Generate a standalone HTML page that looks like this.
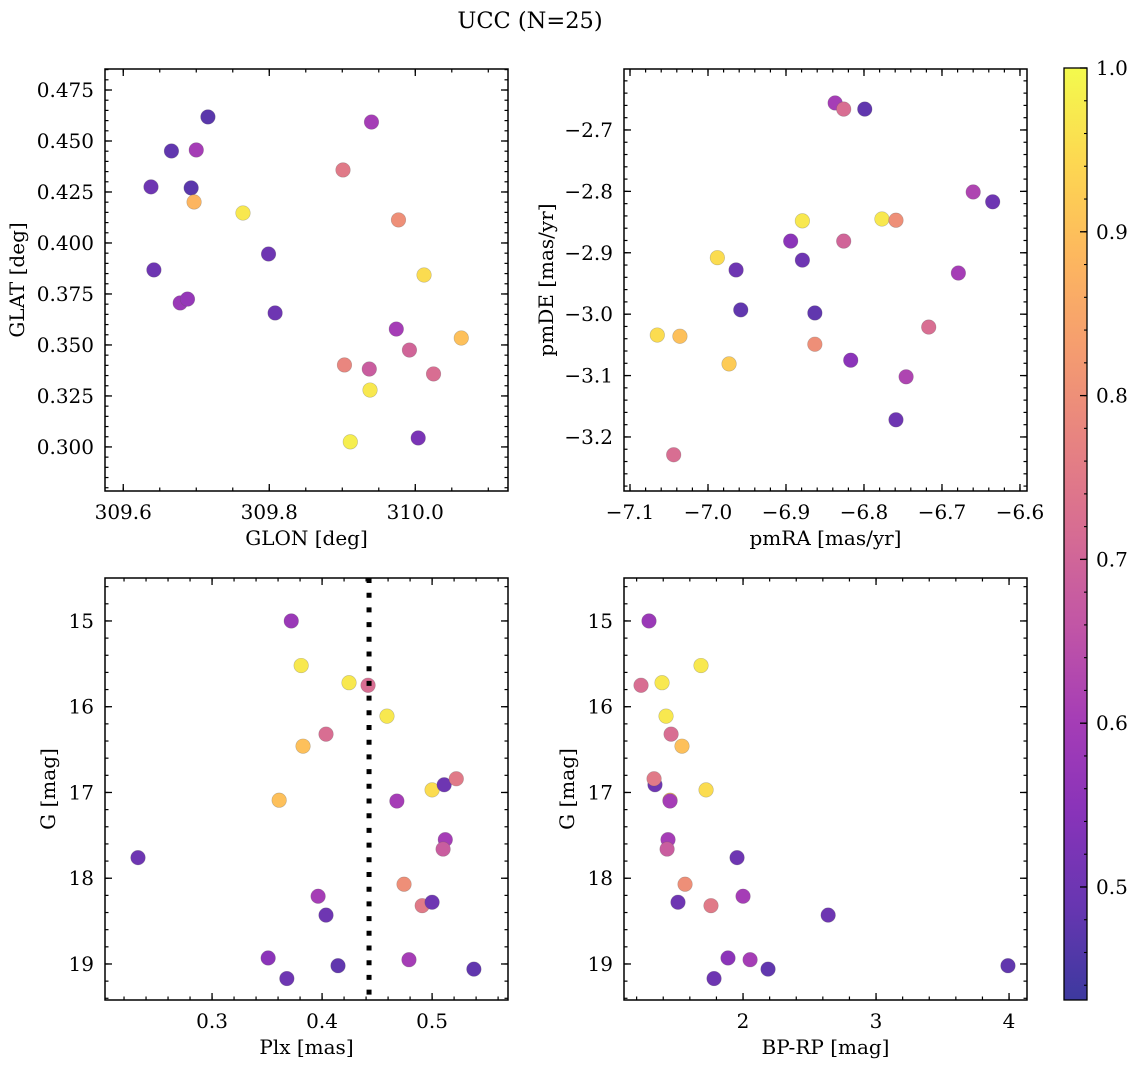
<!DOCTYPE html>
<html><head><meta charset="utf-8">
<style>
html,body{margin:0;padding:0;background:#fff;}
svg{display:block;font-family:"DejaVu Serif","Liberation Serif",serif;}
</style></head>
<body>
<svg id="fig" width="1136" height="1068" viewBox="0 0 1136 1068" xmlns="http://www.w3.org/2000/svg">
<rect width="1136" height="1068" fill="#fff"/>
<text x="530" y="28" font-size="22.5" text-anchor="middle">UCC (N=25)</text>
<defs>
<linearGradient id="plasma" x1="0" y1="1" x2="0" y2="0"></linearGradient>
</defs>
</svg>
<script>
// Panel 1: GLON vs GLAT
const glon1 = [309.716,309.666,309.700,309.638,309.693,309.697,309.764,309.901,309.940,309.977,309.799,309.642,310.012,309.678,309.688,309.808,309.974,309.992,309.903,309.937,310.025,310.063,309.938,309.911,310.004];
const glat1 = [0.4618,0.4451,0.4456,0.4275,0.4270,0.4201,0.4147,0.4358,0.4593,0.4113,0.3946,0.3868,0.3843,0.3706,0.3725,0.3657,0.3578,0.3475,0.3402,0.3382,0.3358,0.3534,0.3279,0.3025,0.3044];
const prob1 = [0.47,0.48,0.60,0.50,0.47,0.88,0.97,0.75,0.60,0.80,0.50,0.50,0.95,0.58,0.57,0.50,0.60,0.70,0.78,0.68,0.72,0.90,0.97,0.98,0.52];
// Panel 2: pmRA vs pmDE
const pmra2 = [-6.837,-6.826,-6.799,-6.660,-6.635,-6.894,-6.826,-6.879,-6.777,-6.759,-6.988,-6.879,-6.964,-6.679,-6.958,-6.863,-6.717,-7.065,-7.036,-6.863,-6.817,-6.973,-6.746,-6.759,-7.044];
const pmde2 = [-2.656,-2.666,-2.666,-2.801,-2.817,-2.881,-2.881,-2.848,-2.845,-2.847,-2.908,-2.912,-2.928,-2.933,-2.993,-2.998,-3.021,-3.034,-3.036,-3.049,-3.075,-3.081,-3.102,-3.172,-3.229];
const prob2 = [0.60,0.72,0.48,0.62,0.50,0.55,0.70,0.97,0.97,0.80,0.95,0.50,0.50,0.60,0.48,0.48,0.72,0.95,0.90,0.80,0.55,0.92,0.62,0.50,0.72];
// Panels 3 & 4: Plx / BP-RP vs G
const gmag = [15.0,15.52,15.72,15.75,16.11,16.46,16.32,17.09,17.10,16.97,16.91,16.84,17.55,17.66,17.76,18.07,18.21,18.32,18.28,18.43,18.93,18.95,19.17,19.02,19.06];
const plx3 = [0.372,0.381,0.4245,0.4418,0.459,0.3827,0.4036,0.361,0.468,0.500,0.511,0.522,0.512,0.510,0.2327,0.4745,0.3964,0.491,0.500,0.4036,0.351,0.479,0.368,0.4145,0.538];
const bprp4 = [1.293,1.684,1.391,1.233,1.421,1.541,1.459,1.451,1.451,1.722,1.338,1.331,1.436,1.429,1.955,1.564,2.000,1.759,1.511,2.64,1.887,2.053,1.782,3.992,2.188];
const prob34 = [0.58,0.97,0.97,0.72,0.97,0.90,0.72,0.90,0.60,0.95,0.50,0.75,0.60,0.68,0.50,0.80,0.60,0.75,0.50,0.50,0.55,0.60,0.50,0.48,0.48];
const plxLine = [0.4427];
const xticks1 = [309.6,309.8,310.0], yticks1=[0.300,0.325,0.350,0.375,0.400,0.425,0.450,0.475];
const xticks2 = [-7.1,-7.0,-6.9,-6.8,-6.7,-6.6], yticks2=[-2.7,-2.8,-2.9,-3.0,-3.1,-3.2];
const xticks3 = [0.3,0.4,0.5], yticks34=[15,16,17,18,19];
const xticks4 = [2,3,4];
const cbTicks = [0.5,0.6,0.7,0.8,0.9,1.0];
const cmin=0.431, cmax=1.0;

const NS="http://www.w3.org/2000/svg";
const svg=document.getElementById('fig');
const FS=20;
const P=[[0,'#0d0887'],[.1,'#41049d'],[.2,'#6a00a8'],[.3,'#8f0da4'],[.4,'#b12a90'],[.5,'#cc4778'],[.6,'#e16462'],[.7,'#f2844b'],[.8,'#fca636'],[.9,'#fcce25'],[1,'#f0f921']];
function hex(h){return [1,3,5].map(i=>parseInt(h.substr(i,2),16));}
function plasma(t){t=Math.max(0,Math.min(1,t));for(let i=1;i<P.length;i++){if(t<=P[i][0]){const a=hex(P[i-1][1]),b=hex(P[i][1]),f=(t-P[i-1][0])/(P[i][0]-P[i-1][0]);const c=a.map((v,k)=>Math.round((v+(b[k]-v)*f)*0.8+255*0.2));return `rgb(${c[0]},${c[1]},${c[2]})`;}}}
function col(p){return plasma((p-cmin)/(cmax-cmin));}
function mk(tag,at,parent){const e=document.createElementNS(NS,tag);for(const k in at)e.setAttribute(k,at[k]);(parent||svg).appendChild(e);return e;}
function fmt(v,d){return (v<0?'\u2212':'')+Math.abs(v).toFixed(d);}

function panel(o){
  const g=mk('g',{});
  
  
  const sx=v=>o.x0+(v-o.xd[0])/(o.xd[1]-o.xd[0])*(o.x1-o.x0);
  const sy=v=>o.y1-(v-o.yd[0])/(o.yd[1]-o.yd[0])*(o.y1-o.y0);
  for(let v=Math.ceil(o.xd[0]/o.xm-1e-9)*o.xm; v<=o.xd[1]; v+=o.xm){const x=sx(v);mk('line',{x1:x,x2:x,y1:o.y1,y2:o.y1-3.5,stroke:'#000','stroke-width':1.2},g);mk('line',{x1:x,x2:x,y1:o.y0,y2:o.y0+3.5,stroke:'#000','stroke-width':1.2},g);}
  for(let v=Math.ceil(o.yd[0]/o.ym-1e-9)*o.ym; v<=o.yd[1]; v+=o.ym){const y=sy(v);mk('line',{x1:o.x0,x2:o.x0+3.5,y1:y,y2:y,stroke:'#000','stroke-width':1.2},g);mk('line',{x1:o.x1,x2:o.x1-3.5,y1:y,y2:y,stroke:'#000','stroke-width':1.2},g);}
  o.xt.forEach(v=>{const x=sx(v);mk('line',{x1:x,x2:x,y1:o.y1,y2:o.y1-7,stroke:'#000','stroke-width':1.3},g);mk('line',{x1:x,x2:x,y1:o.y0,y2:o.y0+7,stroke:'#000','stroke-width':1.3},g);
    const t=mk('text',{x:x,y:o.y1+28,'font-size':FS,'text-anchor':'middle'},g);t.textContent=fmt(v,o.xdp);
    
    });
  o.yt.forEach(v=>{const y=sy(v);mk('line',{x1:o.x0,x2:o.x0+7,y1:y,y2:y,stroke:'#000','stroke-width':1.3},g);mk('line',{x1:o.x1,x2:o.x1-7,y1:y,y2:y,stroke:'#000','stroke-width':1.3},g);
    const t=mk('text',{x:o.x0-11,y:y+7,'font-size':FS,'text-anchor':'end'},g);t.textContent=fmt(v,o.ydp);
    
    });
  o.xs.forEach((xv,i)=>{const c=mk('circle',{cx:sx(xv),cy:sy(o.ys[i]),r:7.3,fill:col(o.ps[i]),stroke:'rgba(90,90,90,0.35)','stroke-width':0.6},g);
    
    });
  if(o.vline){o.vline.forEach(v=>{const l=mk('line',{x1:sx(v),x2:sx(v),y1:o.y0,y2:o.y1,stroke:'#000','stroke-width':5,'stroke-dasharray':'5 9.7'},g);
    
    });}
  const fr=mk('rect',{x:o.x0,y:o.y0,width:o.x1-o.x0,height:o.y1-o.y0,fill:'none',stroke:'#000','stroke-width':1.5},g);
  
  
  const xl=mk('text',{x:(o.x0+o.x1)/2,y:o.y1+54,'font-size':FS,'text-anchor':'middle'},g);xl.textContent=o.xl;
  
  
  const yl=mk('text',{x:o.ylx,y:(o.y0+o.y1)/2,'font-size':FS,'text-anchor':'middle',transform:`rotate(-90 ${o.ylx} ${(o.y0+o.y1)/2})`},g);yl.textContent=o.yl;
  
  
}
panel({name:'glon-glat-panel',x0:105,x1:508,y0:69,y1:491,xd:[309.575,310.127],yd:[0.2784,0.4853],xt:xticks1,yt:yticks1,xm:0.05,ym:0.005,xdp:1,ydp:3,xs:glon1,ys:glat1,ps:prob1,xl:'GLON [deg]',yl:'GLAT [deg]',ylx:24});
panel({name:'pm-panel',x0:624,x1:1027,y0:69,y1:491,xd:[-7.1077,-6.591],yd:[-3.288,-2.6007],xt:xticks2,yt:yticks2,xm:0.02,ym:0.02,xdp:1,ydp:1,xs:pmra2,ys:pmde2,ps:prob2,xl:'pmRA [mas/yr]',yl:'pmDE [mas/yr]',ylx:553});
panel({name:'plx-g-panel',x0:105,x1:508,y0:578,y1:1000,xd:[0.2027,0.569],yd:[-19.42,-14.499],xt:xticks3,yt:[],xm:0.02,ym:0.2,xdp:1,ydp:0,xs:plx3,ys:gmag.map(v=>-v),ps:prob34,xl:'Plx [mas]',yl:'G [mag]',ylx:55,vline:plxLine});
panel({name:'bprp-g-panel',x0:624,x1:1027,y0:578,y1:1000,xd:[1.105,4.135],yd:[-19.42,-14.499],xt:xticks4,yt:[],xm:0.2,ym:0.2,xdp:0,ydp:0,xs:bprp4,ys:gmag.map(v=>-v),ps:prob34,xl:'BP-RP [mag]',yl:'G [mag]',ylx:574});
[[105,508],[624,1027]].forEach(([x0,x1])=>{
  yticks34.forEach(v=>{const y=1000-(-v+19.42)/(19.42-14.499)*422;
    mk('line',{x1:x0,x2:x0+7,y1:y,y2:y,stroke:'#000','stroke-width':1.3});mk('line',{x1:x1,x2:x1-7,y1:y,y2:y,stroke:'#000','stroke-width':1.3});
    const t=mk('text',{x:x0-11,y:y+7,'font-size':FS,'text-anchor':'end'});t.textContent=String(v);
    
    });
});
const grad=document.getElementById('plasma');
for(let i=0;i<=20;i++){mk('stop',{offset:(i/20),'stop-color':plasma(i/20)},grad);}
const cb=mk('g',{});


const cy=v=>1000-(v-cmin)/(cmax-cmin)*932;
mk('rect',{x:1064,y:68,width:23,height:932,fill:'url(#plasma)',stroke:'#000','stroke-width':1.3},cb);
for(let v=0.44;v<=1.0001;v+=0.02){const y=cy(v);mk('line',{x1:1087,x2:1084,y1:y,y2:y,stroke:'#000','stroke-width':1.1},cb);}
cbTicks.forEach(v=>{const y=cy(v);mk('line',{x1:1087,x2:1080,y1:y,y2:y,stroke:'#000','stroke-width':1.3},cb);
  const t=mk('text',{x:1096,y:y+7,'font-size':FS},cb);t.textContent=v.toFixed(1);
  
  });
</script>
</body></html>
